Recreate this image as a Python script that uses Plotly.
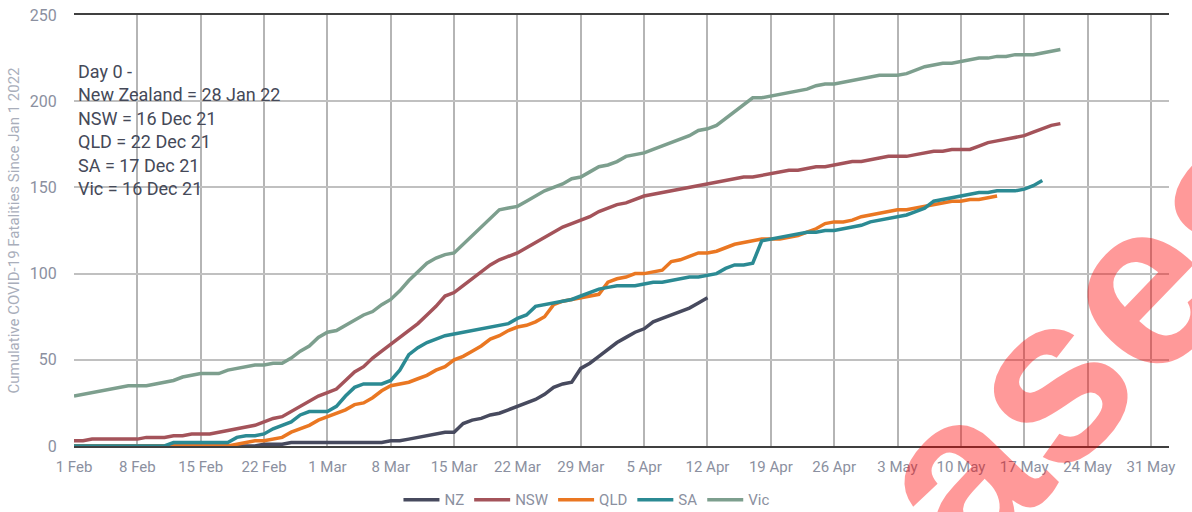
import pandas as pd
import plotly.graph_objects as go

start_date = "2022-02-01"

series_names = ["NZ", "NSW", "QLD", "SA", "Vic"]

nz = [0]*21 + [1, 1, 1] + [2]*11 + [3, 3, 4, 5, 6, 7, 8, 8, 13, 15, 16, 18, 19, 21, 23, 25, 27, 30, 34, 36, 37,
      45, 48, 52, 56, 60, 63, 66, 68, 72, 74, 76, 78, 80, 83, 86]

nsw = [3, 3, 4, 4, 4, 4, 4, 4, 5, 5, 5, 6, 6, 7, 7, 7, 8, 9, 10, 11, 12, 14, 16, 17, 20, 23, 26, 29, 31, 33,
       38, 43, 46, 51, 55, 59, 63, 67, 71, 76, 81, 87, 89, 93, 97, 101, 105, 108, 110, 112, 115, 118, 121, 124,
       127, 129, 131, 133, 136, 138, 140, 141, 143, 145, 146, 147, 148, 149, 150, 151, 152, 153, 154, 155, 156,
       156, 157, 158, 159, 160, 160, 161, 162, 162, 163, 164, 165, 165, 166, 167, 168, 168, 168, 169, 170, 171,
       171, 172, 172, 172, 174, 176, 177, 178, 179, 180, 182, 184, 186, 187]

qld = [0]*18 + [1, 2, 3, 3, 4, 5, 8, 10, 12, 15, 17, 19, 21, 24, 25, 28, 32, 35, 36, 37, 39, 41, 44, 46, 50, 52,
       55, 58, 62, 64, 67, 69, 70, 72, 75, 82, 84, 85, 86, 87, 88, 95, 97, 98, 100, 100, 101, 102, 107, 108, 110,
       112, 112, 113, 115, 117, 118, 119, 120, 120, 120, 121, 122, 124, 126, 129, 130, 130, 131, 133, 134, 135,
       136, 137, 137, 138, 139, 140, 141, 142, 142, 143, 143, 144, 145]

sa = [0]*11 + [2]*7 + [5, 6, 6, 7, 10, 12, 14, 18, 20, 20, 20, 23, 29, 34, 36, 36, 36, 38, 44, 53, 57, 60, 62, 64,
      65, 66, 67, 68, 69, 70, 71, 74, 76, 81, 82, 83, 84, 85, 87, 89, 91, 92, 93, 93, 93, 94, 95, 95, 96, 97, 98,
      98, 99, 100, 103, 105, 105, 106, 119, 120, 121, 122, 123, 124, 124, 125, 125, 126, 127, 128, 130, 131, 132,
      133, 134, 136, 138, 142, 143, 144, 145, 146, 147, 147, 148, 148, 148, 149, 151, 154]

vic = [29, 30, 31, 32, 33, 34, 35, 35, 35, 36, 37, 38, 40, 41, 42, 42, 42, 44, 45, 46, 47, 47, 48, 48, 51, 55, 58,
       63, 66, 67, 70, 73, 76, 78, 82, 85, 90, 96, 101, 106, 109, 111, 112, 117, 122, 127, 132, 137, 138, 139,
       142, 145, 148, 150, 152, 155, 156, 159, 162, 163, 165, 168, 169, 170, 172, 174, 176, 178, 180, 183, 184,
       186, 190, 194, 198, 202, 202, 203, 204, 205, 206, 207, 209, 210, 210, 211, 212, 213, 214, 215, 215, 215,
       216, 218, 220, 221, 222, 222, 223, 224, 225, 225, 226, 226, 227, 227, 227, 228, 229, 230]

series_values = [nz, nsw, qld, sa, vic]
series_colors = ["#474a5e", "#a4535a", "#ea7722", "#2b8a93", "#7d9f8e"]

tick_dates = pd.date_range("2022-02-01", "2022-05-31", freq="7D")
tick_labels = ["1 Feb", "8 Feb", "15 Feb", "22 Feb", "1 Mar", "8 Mar", "15 Mar", "22 Mar", "29 Mar",
               "5 Apr", "12 Apr", "19 Apr", "26 Apr", "3 May", "10 May", "17 May", "24 May", "31 May"]

y_ticks = [0, 50, 100, 150, 200, 250]

note_lines = ["Day 0 -", "New Zealand = 28 Jan 22", "NSW = 16 Dec 21", "QLD = 22 Dec 21",
              "SA = 17 Dec 21", "Vic = 16 Dec 21"]

fig = go.Figure()
for name, vals, col in zip(series_names, series_values, series_colors):
    dates = pd.date_range(start_date, periods=len(vals), freq="D")
    fig.add_trace(go.Scatter(x=dates, y=vals, mode="lines", name=name,
                             line=dict(color=col, width=3.5)))

tick_col = "#8b90a0"
fig.update_layout(
    width=1192, height=512,
    margin=dict(l=74, r=23, t=15, b=66, autoexpand=False),
    paper_bgcolor="white", plot_bgcolor="white",
    font=dict(family="Roboto, Liberation Sans, sans-serif", size=14, color=tick_col),
    showlegend=True,
    legend=dict(orientation="h", x=0.468, xanchor="center", y=-0.125, yanchor="middle",
                font=dict(size=15, color=tick_col), itemwidth=36, tracegroupgap=0),
    xaxis=dict(
        range=["2022-02-01", "2022-06-02"],
        tickvals=tick_dates, ticktext=tick_labels,
        showgrid=True, gridcolor="#b5b5b5", gridwidth=1.5,
        showline=True, linecolor="#404040", linewidth=1.5, mirror=True,
        ticks="outside", ticklen=6, tickcolor="rgba(0,0,0,0)",
        tickfont=dict(size=15, color=tick_col),
        zeroline=False,
    ),
    yaxis=dict(
        range=[0, 250], tickvals=y_ticks,
        showgrid=True, gridcolor="#c0c0c0", gridwidth=1.5,
        zeroline=False, showline=False,
        ticks="outside", ticklen=13, tickcolor="rgba(0,0,0,0)",
        tickfont=dict(size=16, color=tick_col),
        title=dict(text="Cumulative COVID-19 Fatalities Since Jan 1 2022",
                   font=dict(size=15, color="#a9aebb"), standoff=6),
    ),
)

fig.add_annotation(
    text="<br>".join(note_lines), xref="paper", yref="paper", x=0.002, y=0.898,
    xanchor="left", yanchor="top", align="left", showarrow=False,
    font=dict(size=18, color="#454958", family="Roboto, Liberation Sans, sans-serif"),
)

fig.add_annotation(
    text="<b>cases</b>", xref="paper", yref="paper", x=0.888, y=0.15,
    xanchor="center", yanchor="middle", showarrow=False, textangle=-46,
    font=dict(size=234, color="rgba(255,0,0,0.4)", family="Liberation Sans, Arial, sans-serif"),
)

fig.write_html("out.html")
